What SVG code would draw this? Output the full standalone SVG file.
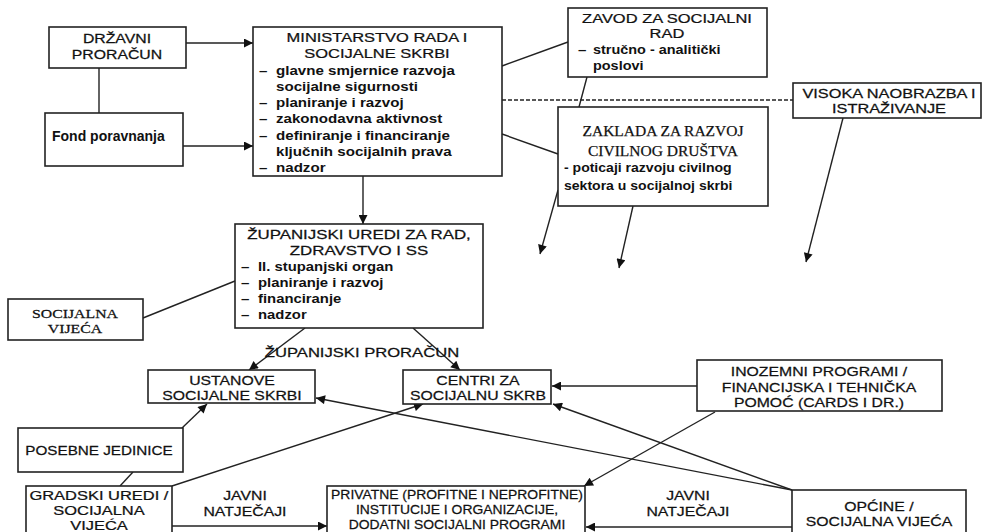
<svg xmlns="http://www.w3.org/2000/svg" width="985" height="532" viewBox="0 0 985 532">
<style>
.box{fill:#fff;stroke:#222;stroke-width:1.6}
.ln{fill:none;stroke:#222;stroke-width:1.4}
.ar{fill:none;stroke:#222;stroke-width:1.4;marker-end:url(#ah)}
.dash{fill:none;stroke:#222;stroke-width:1.4;stroke-dasharray:4 2}
text{font-family:"Liberation Sans",Arial,sans-serif;font-size:13.5px;fill:#111;stroke:#111;stroke-width:0.25;transform-box:fill-box;transform-origin:0 50%;transform:scaleX(1.17)}
.c{text-anchor:middle;transform-origin:50% 50%}
.b{font-weight:bold;stroke:none;transform:scaleX(1.12)}
.sf{font-family:"Liberation Serif","Times New Roman",serif;font-size:15.5px;transform:none}
</style>
<defs>
<marker id="ah" viewBox="0 0 10 10" refX="10" refY="5" markerWidth="11" markerHeight="9" markerUnits="userSpaceOnUse" orient="auto">
<path d="M0,0 L10,5 L0,10 z" fill="#111"/>
</marker>
</defs>

<g id="connectors">
<line class="ln" x1="99" y1="68" x2="99" y2="113"/>
<line class="ar" x1="186" y1="43" x2="253" y2="43"/>
<line class="ar" x1="183" y1="146" x2="253" y2="146"/>
<line class="ln" x1="502" y1="66" x2="568" y2="42"/>
<line class="dash" x1="502" y1="100" x2="793" y2="100"/>
<line class="ln" x1="502" y1="134" x2="558" y2="154"/>
<line class="ln" x1="587" y1="77" x2="579" y2="107"/>
<line class="ar" x1="363" y1="176" x2="363" y2="224"/>
<line class="ar" x1="558" y1="190" x2="540" y2="254"/>
<line class="ar" x1="633" y1="206" x2="619" y2="268"/>
<line class="ar" x1="843" y1="118" x2="806" y2="262"/>
<line class="ln" x1="143" y1="318" x2="235" y2="281"/>
<line class="ar" x1="305" y1="328" x2="249" y2="370"/>
<line class="ar" x1="413" y1="328" x2="460" y2="370"/>
<line class="ar" x1="697" y1="386" x2="552" y2="386"/>
<line class="ar" x1="715" y1="412" x2="584" y2="486"/>
<line class="ar" x1="182" y1="428" x2="207" y2="404"/>
<line class="ln" x1="120" y1="486" x2="133" y2="472"/>
<line class="ar" x1="172" y1="486" x2="423" y2="404"/>
<line class="ar" x1="172" y1="526" x2="327" y2="526"/>
<line class="ar" x1="792" y1="490" x2="316" y2="398"/>
<line class="ar" x1="792" y1="490" x2="553" y2="404"/>
<line class="ar" x1="792" y1="527" x2="586" y2="527"/>
</g>

<g id="drzavni">
<rect class="box" x="49" y="27" width="137" height="41"/>
<text class="c" x="117" y="43">DRŽAVNI</text>
<text class="c" x="117" y="59">PRORAČUN</text>
</g>

<g id="fond">
<rect class="box" x="45" y="113" width="138" height="53"/>
<text class="b" x="52" y="141" style="font-size:14px;transform:none">Fond poravnanja</text>
</g>

<g id="ministarstvo">
<rect class="box" x="253" y="27" width="249" height="149"/>
<text class="c" x="377" y="42" style="transform:scaleX(1.22)">MINISTARSTVO RADA I</text>
<text class="c" x="377" y="58" style="transform:scaleX(1.22)">SOCIJALNE SKRBI</text>
<text class="b" x="259" y="75">–</text><text class="b" x="276" y="75">glavne smjernice razvoja</text>
<text class="b" x="276" y="91">socijalne sigurnosti</text>
<text class="b" x="259" y="107">–</text><text class="b" x="276" y="107">planiranje i razvoj</text>
<text class="b" x="259" y="123">–</text><text class="b" x="276" y="123">zakonodavna aktivnost</text>
<text class="b" x="259" y="140">–</text><text class="b" x="276" y="140">definiranje i financiranje</text>
<text class="b" x="276" y="156">ključnih socijalnih prava</text>
<text class="b" x="259" y="172">–</text><text class="b" x="276" y="172">nadzor</text>
</g>

<g id="zavod">
<rect class="box" x="568" y="8" width="199" height="69"/>
<text class="c" x="667" y="23" style="transform:scaleX(1.22)">ZAVOD ZA SOCIJALNI</text>
<text class="c" x="667" y="38" style="transform:scaleX(1.22)">RAD</text>
<text class="b" x="578" y="54">–</text><text class="b" x="593" y="54" style="transform:scaleX(1.07)">stručno - analitički</text>
<text class="b" x="593" y="70" style="transform:scaleX(1.07)">poslovi</text>
</g>

<g id="visoka">
<rect class="box" x="793" y="83" width="188" height="35"/>
<text class="c" x="889" y="98" style="transform:scaleX(1.21)">VISOKA NAOBRAZBA I</text>
<text class="c" x="889" y="113" style="transform:scaleX(1.21)">ISTRAŽIVANJE</text>
</g>

<g id="zaklada">
<rect class="box" x="558" y="107" width="210" height="99"/>
<text class="c sf" x="663" y="136">ZAKLADA ZA RAZVOJ</text>
<text class="c sf" x="663" y="156">CIVILNOG DRUŠTVA</text>
<text class="b" x="564" y="172" style="transform:scaleX(1.04)">- poticaji razvoju civilnog</text>
<text class="b" x="564" y="190" style="transform:scaleX(1.04)">sektora u socijalnoj skrbi</text>
</g>

<g id="zupanijski">
<rect class="box" x="235" y="224" width="248" height="104"/>
<text class="c" x="359" y="239" style="transform:scaleX(1.25)">ŽUPANIJSKI UREDI ZA RAD,</text>
<text class="c" x="359" y="255" style="transform:scaleX(1.25)">ZDRAVSTVO I SS</text>
<text class="b" x="241" y="271">–</text><text class="b" x="258" y="271" style="transform:scaleX(1.1)">II. stupanjski organ</text>
<text class="b" x="241" y="287">–</text><text class="b" x="258" y="287" style="transform:scaleX(1.1)">planiranje i razvoj</text>
<text class="b" x="241" y="303">–</text><text class="b" x="258" y="303" style="transform:scaleX(1.1)">financiranje</text>
<text class="b" x="241" y="319">–</text><text class="b" x="258" y="319" style="transform:scaleX(1.1)">nadzor</text>
</g>

<g id="socijalna-vijeca">
<rect class="box" x="8" y="299" width="135" height="41"/>
<text class="c sf" x="75" y="318" style="font-size:13.5px;transform:scaleX(1.17)">SOCIJALNA</text>
<text class="c sf" x="75" y="333" style="font-size:13.5px;transform:scaleX(1.17)">VIJEĆA</text>
</g>

<g id="zupanijski-proracun">
<text class="c" x="362" y="357" style="transform:scaleX(1.23)">ŽUPANIJSKI PRORAČUN</text>
</g>

<g id="ustanove">
<rect class="box" x="148" y="370" width="167" height="33"/>
<text class="c" x="232" y="385">USTANOVE</text>
<text class="c" x="232" y="400">SOCIJALNE SKRBI</text>
</g>

<g id="centri">
<rect class="box" x="403" y="370" width="148" height="34"/>
<text class="c" x="478" y="385">CENTRI ZA</text>
<text class="c" x="478" y="400">SOCIJALNU SKRB</text>
</g>

<g id="inozemni">
<rect class="box" x="697" y="360" width="245" height="51"/>
<text class="c" x="819" y="376">INOZEMNI PROGRAMI /</text>
<text class="c" x="819" y="392">FINANCIJSKA I TEHNIČKA</text>
<text class="c" x="819" y="407">POMOĆ (CARDS I DR.)</text>
</g>

<g id="posebne">
<rect class="box" x="18" y="428" width="165" height="44"/>
<text class="c" x="99" y="455" style="transform:scaleX(1.13)">POSEBNE JEDINICE</text>
</g>

<g id="gradski">
<rect class="box" x="26" y="486" width="146" height="56"/>
<text class="c" x="99" y="500" style="transform:scaleX(1.22)">GRADSKI UREDI /</text>
<text class="c" x="99" y="515" style="transform:scaleX(1.22)">SOCIJALNA</text>
<text class="c" x="99" y="530" style="transform:scaleX(1.22)">VIJEĆA</text>
</g>

<g id="javni-lijevo">
<text class="c" x="245" y="500">JAVNI</text>
<text class="c" x="245" y="516">NATJEČAJI</text>
</g>

<g id="privatne">
<rect class="box" x="327" y="486" width="258" height="56"/>
<text class="c" x="457" y="499" style="transform:scaleX(1.03)">PRIVATNE (PROFITNE I NEPROFITNE)</text>
<text class="c" x="457" y="514" style="transform:scaleX(1.03)">INSTITUCIJE I ORGANIZACIJE,</text>
<text class="c" x="457" y="529" style="transform:scaleX(1.03)">DODATNI SOCIJALNI PROGRAMI</text>
</g>

<g id="javni-desno">
<text class="c" x="688" y="500">JAVNI</text>
<text class="c" x="688" y="516">NATJEČAJI</text>
</g>

<g id="opcine">
<rect class="box" x="792" y="490" width="174" height="52"/>
<text class="c" x="879" y="511">OPĆINE /</text>
<text class="c" x="879" y="526">SOCIJALNA VIJEĆA</text>
</g>
</svg>
